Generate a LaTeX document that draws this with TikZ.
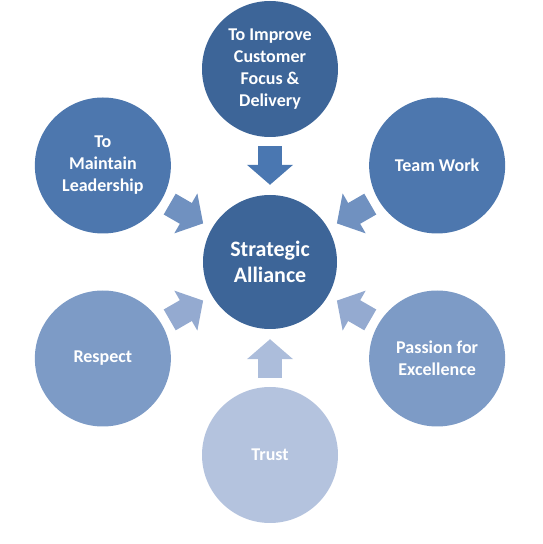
\documentclass[tikz,border=0pt]{standalone}
\usepackage{fontspec}
\setmainfont{Carlito}
\usetikzlibrary{arrows.meta, positioning, calc}
\definecolor{deepblue}{RGB}{61,101,152}
\definecolor{midblue}{RGB}{77,119,174}
\definecolor{softblue}{RGB}{125,155,198}
\definecolor{paleblue}{RGB}{180,195,222}
\definecolor{arrtop}{RGB}{74,119,177}
\definecolor{arrup}{RGB}{112,145,192}
\definecolor{arrlow}{RGB}{148,170,208}
\definecolor{arrbot}{RGB}{172,189,219}

\begin{document}
\begin{tikzpicture}[
    x=1pt, y=1pt,
    hub/.style={circle, fill=deepblue, minimum size=134pt, inner sep=0pt,
                align=center, text=white, font=\fontsize{22}{26}\selectfont\bfseries},
    spoke/.style={circle, minimum size=136pt, inner sep=0pt,
                  align=center, text=white, font=\fontsize{18}{22}\selectfont\bfseries},
    blk/.style={line width=24pt, -{Triangle[width=45pt, length=20pt]},
                shorten >=10pt, shorten <=9pt},
]
    \useasboundingbox (0,0) rectangle (543,544);

    \node[hub] (sa) at (270,282) {Strategic\\Alliance};

    \node[spoke, fill=deepblue] (imp)  at ([shift={(90:193)}]sa.center)  {To Improve\\Customer\\Focus \&\\Delivery};
    \node[spoke, fill=midblue]  (lead) at ([shift={(150:193)}]sa.center) {To\\Maintain\\Leadership};
    \node[spoke, fill=midblue]  (team) at ([shift={(30:193)}]sa.center)  {Team Work};
    \node[spoke, fill=softblue] (resp) at ([shift={(210:193)}]sa.center) {Respect};
    \node[spoke, fill=softblue] (pass) at ([shift={(330:193)}]sa.center) {Passion for\\Excellence};
    \node[spoke, fill=paleblue] (tru)  at ([shift={(270:193)}]sa.center) {Trust};

    \draw[blk, draw=arrtop] (imp)  -- (sa);
    \draw[blk, draw=arrup]  (lead) -- (sa);
    \draw[blk, draw=arrup]  (team) -- (sa);
    \draw[blk, draw=arrlow] (resp) -- (sa);
    \draw[blk, draw=arrlow] (pass) -- (sa);
    \draw[blk, draw=arrbot] (tru)  -- (sa);
\end{tikzpicture}
\end{document}
